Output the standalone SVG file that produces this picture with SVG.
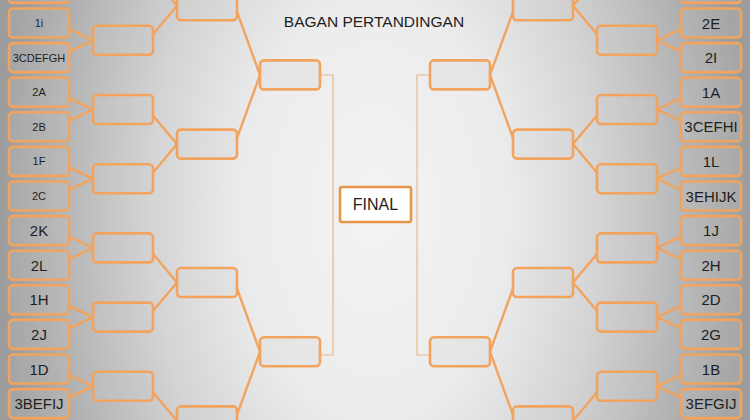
<svg xmlns="http://www.w3.org/2000/svg" width="750" height="420" viewBox="0 0 750 420">
<defs>
<radialGradient id="bg" gradientUnits="userSpaceOnUse" cx="375" cy="210" r="375" gradientTransform="translate(375 210) scale(1 1.6) translate(-375 -210)">
<stop offset="0" stop-color="#f3f3f3"/>
<stop offset="0.35" stop-color="#ececec"/>
<stop offset="0.6" stop-color="#d4d4d4"/>
<stop offset="0.85" stop-color="#b3b3b3"/>
<stop offset="1" stop-color="#9c9c9c"/>
</radialGradient>
</defs>
<style>
.b{fill:rgba(205,205,205,0.2);stroke:#F2A35E;stroke-width:2.6}
.f{fill:#ffffff;stroke:#E8974A;stroke-width:2.6}
.c{stroke:#F2A35E;stroke-width:2.4;fill:none;stroke-linecap:round}
.t{stroke:#E9B88F;stroke-width:1.2;fill:none}
text{font-family:"Liberation Sans",Arial,sans-serif;fill:#1e1e1e;text-anchor:middle}
.s{font-size:11px}
.l{font-size:15px}
</style>
<rect width="750" height="420" fill="url(#bg)"/>
<text x="374" y="27" style="font-size:15.5px">BAGAN PERTANDINGAN</text>

<g id="connectors">
<line class="c" x1="69" y1="29" x2="93" y2="40.3"/>
<line class="c" x1="69" y1="51.6" x2="93" y2="40.3"/>
<line class="c" x1="69" y1="98.2" x2="93" y2="109.5"/>
<line class="c" x1="69" y1="120.8" x2="93" y2="109.5"/>
<line class="c" x1="69" y1="167.4" x2="93" y2="178.7"/>
<line class="c" x1="69" y1="190" x2="93" y2="178.7"/>
<line class="c" x1="69" y1="236.6" x2="93" y2="247.9"/>
<line class="c" x1="69" y1="259.2" x2="93" y2="247.9"/>
<line class="c" x1="69" y1="305.8" x2="93" y2="317.1"/>
<line class="c" x1="69" y1="328.4" x2="93" y2="317.1"/>
<line class="c" x1="69" y1="375" x2="93" y2="386.3"/>
<line class="c" x1="69" y1="397.6" x2="93" y2="386.3"/>
<line class="c" x1="153" y1="-22.9" x2="177" y2="5.7"/>
<line class="c" x1="153" y1="34.3" x2="177" y2="5.7"/>
<line class="c" x1="153" y1="115.5" x2="177" y2="144.1"/>
<line class="c" x1="153" y1="172.7" x2="177" y2="144.1"/>
<line class="c" x1="153" y1="253.9" x2="177" y2="282.5"/>
<line class="c" x1="153" y1="311.1" x2="177" y2="282.5"/>
<line class="c" x1="153" y1="392.3" x2="177" y2="420.9"/>
<line class="c" x1="237" y1="11.7" x2="260" y2="74.9"/>
<line class="c" x1="237" y1="138.1" x2="260" y2="74.9"/>
<line class="c" x1="237" y1="288.5" x2="260" y2="351.7"/>
<line class="c" x1="237" y1="414.9" x2="260" y2="351.7"/>
<polyline class="t" points="320,75 333,75 333,355 320,355"/>

<line class="c" x1="681" y1="29" x2="657" y2="40.3"/>
<line class="c" x1="681" y1="51.6" x2="657" y2="40.3"/>
<line class="c" x1="681" y1="98.2" x2="657" y2="109.5"/>
<line class="c" x1="681" y1="120.8" x2="657" y2="109.5"/>
<line class="c" x1="681" y1="167.4" x2="657" y2="178.7"/>
<line class="c" x1="681" y1="190" x2="657" y2="178.7"/>
<line class="c" x1="681" y1="236.6" x2="657" y2="247.9"/>
<line class="c" x1="681" y1="259.2" x2="657" y2="247.9"/>
<line class="c" x1="681" y1="305.8" x2="657" y2="317.1"/>
<line class="c" x1="681" y1="328.4" x2="657" y2="317.1"/>
<line class="c" x1="681" y1="375" x2="657" y2="386.3"/>
<line class="c" x1="681" y1="397.6" x2="657" y2="386.3"/>
<line class="c" x1="597" y1="-22.9" x2="573" y2="5.7"/>
<line class="c" x1="597" y1="34.3" x2="573" y2="5.7"/>
<line class="c" x1="597" y1="115.5" x2="573" y2="144.1"/>
<line class="c" x1="597" y1="172.7" x2="573" y2="144.1"/>
<line class="c" x1="597" y1="253.9" x2="573" y2="282.5"/>
<line class="c" x1="597" y1="311.1" x2="573" y2="282.5"/>
<line class="c" x1="597" y1="392.3" x2="573" y2="420.9"/>
<line class="c" x1="513" y1="11.7" x2="490" y2="74.9"/>
<line class="c" x1="513" y1="138.1" x2="490" y2="74.9"/>
<line class="c" x1="513" y1="288.5" x2="490" y2="351.7"/>
<line class="c" x1="513" y1="414.9" x2="490" y2="351.7"/>
<polyline class="t" points="430,75 417,75 417,355 430,355"/>
</g>

<!-- left leaves -->
<g id="L0"><rect class="b" x="9" y="-26.1" width="60" height="29" rx="4"/></g>
<g id="L1"><rect class="b" x="9" y="8.5" width="60" height="29" rx="4"/><text class="s" x="39" y="27">1i</text></g>
<g id="L2"><rect class="b" x="9" y="43.1" width="60" height="29" rx="4"/><text class="s" x="39" y="61.6">3CDEFGH</text></g>
<g id="L3"><rect class="b" x="9" y="77.7" width="60" height="29" rx="4"/><text class="s" x="39" y="96.2">2A</text></g>
<g id="L4"><rect class="b" x="9" y="112.3" width="60" height="29" rx="4"/><text class="s" x="39" y="130.8">2B</text></g>
<g id="L5"><rect class="b" x="9" y="146.9" width="60" height="29" rx="4"/><text class="s" x="39" y="165.4">1F</text></g>
<g id="L6"><rect class="b" x="9" y="181.5" width="60" height="29" rx="4"/><text class="s" x="39" y="200">2C</text></g>
<g id="L7"><rect class="b" x="9" y="216.1" width="60" height="29" rx="4"/><text class="l" x="39" y="236.1">2K</text></g>
<g id="L8"><rect class="b" x="9" y="250.7" width="60" height="29" rx="4"/><text class="l" x="39" y="270.7">2L</text></g>
<g id="L9"><rect class="b" x="9" y="285.3" width="60" height="29" rx="4"/><text class="l" x="39" y="305.3">1H</text></g>
<g id="L10"><rect class="b" x="9" y="319.9" width="60" height="29" rx="4"/><text class="l" x="39" y="339.9">2J</text></g>
<g id="L11"><rect class="b" x="9" y="354.5" width="60" height="29" rx="4"/><text class="l" x="39" y="374.5">1D</text></g>
<g id="L12"><rect class="b" x="9" y="389.1" width="60" height="29" rx="4"/><text class="l" x="39" y="409.1">3BEFIJ</text></g>

<!-- left round 1 -->
<g id="LR1a"><rect class="b" x="93" y="25.8" width="60" height="29" rx="4"/></g>
<g id="LR1b"><rect class="b" x="93" y="95" width="60" height="29" rx="4"/></g>
<g id="LR1c"><rect class="b" x="93" y="164.2" width="60" height="29" rx="4"/></g>
<g id="LR1d"><rect class="b" x="93" y="233.4" width="60" height="29" rx="4"/></g>
<g id="LR1e"><rect class="b" x="93" y="302.6" width="60" height="29" rx="4"/></g>
<g id="LR1f"><rect class="b" x="93" y="371.8" width="60" height="29" rx="4"/></g>
<!-- left round 2 -->
<g id="LR2a"><rect class="b" x="177" y="-8.8" width="60" height="29" rx="4"/></g>
<g id="LR2b"><rect class="b" x="177" y="129.6" width="60" height="29" rx="4"/></g>
<g id="LR2c"><rect class="b" x="177" y="268" width="60" height="29" rx="4"/></g>
<g id="LR2d"><rect class="b" x="177" y="406.4" width="60" height="29" rx="4"/></g>
<!-- left round 3 -->
<g id="LR3a"><rect class="b" x="260" y="60.4" width="60" height="29" rx="4"/></g>
<g id="LR3b"><rect class="b" x="260" y="337.2" width="60" height="29" rx="4"/></g>

<!-- final -->
<g id="final"><rect class="f" x="340" y="187" width="71" height="35" rx="2"/><text x="375.5" y="210" style="font-size:16px">FINAL</text></g>

<!-- right round 3 -->
<g id="RR3a"><rect class="b" x="430" y="60.4" width="60" height="29" rx="4"/></g>
<g id="RR3b"><rect class="b" x="430" y="337.2" width="60" height="29" rx="4"/></g>
<!-- right round 2 -->
<g id="RR2a"><rect class="b" x="513" y="-8.8" width="60" height="29" rx="4"/></g>
<g id="RR2b"><rect class="b" x="513" y="129.6" width="60" height="29" rx="4"/></g>
<g id="RR2c"><rect class="b" x="513" y="268" width="60" height="29" rx="4"/></g>
<g id="RR2d"><rect class="b" x="513" y="406.4" width="60" height="29" rx="4"/></g>
<!-- right round 1 -->
<g id="RR1a"><rect class="b" x="597" y="25.8" width="60" height="29" rx="4"/></g>
<g id="RR1b"><rect class="b" x="597" y="95" width="60" height="29" rx="4"/></g>
<g id="RR1c"><rect class="b" x="597" y="164.2" width="60" height="29" rx="4"/></g>
<g id="RR1d"><rect class="b" x="597" y="233.4" width="60" height="29" rx="4"/></g>
<g id="RR1e"><rect class="b" x="597" y="302.6" width="60" height="29" rx="4"/></g>
<g id="RR1f"><rect class="b" x="597" y="371.8" width="60" height="29" rx="4"/></g>

<!-- right leaves -->
<g id="R0"><rect class="b" x="681" y="-26.1" width="60" height="29" rx="4"/></g>
<g id="R1"><rect class="b" x="681" y="8.5" width="60" height="29" rx="4"/><text class="l" x="711" y="28.5">2E</text></g>
<g id="R2"><rect class="b" x="681" y="43.1" width="60" height="29" rx="4"/><text class="l" x="711" y="63.1">2I</text></g>
<g id="R3"><rect class="b" x="681" y="77.7" width="60" height="29" rx="4"/><text class="l" x="711" y="97.7">1A</text></g>
<g id="R4"><rect class="b" x="681" y="112.3" width="60" height="29" rx="4"/><text class="l" x="711" y="132.3">3CEFHI</text></g>
<g id="R5"><rect class="b" x="681" y="146.9" width="60" height="29" rx="4"/><text class="l" x="711" y="166.9">1L</text></g>
<g id="R6"><rect class="b" x="681" y="181.5" width="60" height="29" rx="4"/><text class="l" x="711" y="201.5">3EHIJK</text></g>
<g id="R7"><rect class="b" x="681" y="216.1" width="60" height="29" rx="4"/><text class="l" x="711" y="236.1">1J</text></g>
<g id="R8"><rect class="b" x="681" y="250.7" width="60" height="29" rx="4"/><text class="l" x="711" y="270.7">2H</text></g>
<g id="R9"><rect class="b" x="681" y="285.3" width="60" height="29" rx="4"/><text class="l" x="711" y="305.3">2D</text></g>
<g id="R10"><rect class="b" x="681" y="319.9" width="60" height="29" rx="4"/><text class="l" x="711" y="339.9">2G</text></g>
<g id="R11"><rect class="b" x="681" y="354.5" width="60" height="29" rx="4"/><text class="l" x="711" y="374.5">1B</text></g>
<g id="R12"><rect class="b" x="681" y="389.1" width="60" height="29" rx="4"/><text class="l" x="711" y="409.1">3EFGIJ</text></g>
</svg>
